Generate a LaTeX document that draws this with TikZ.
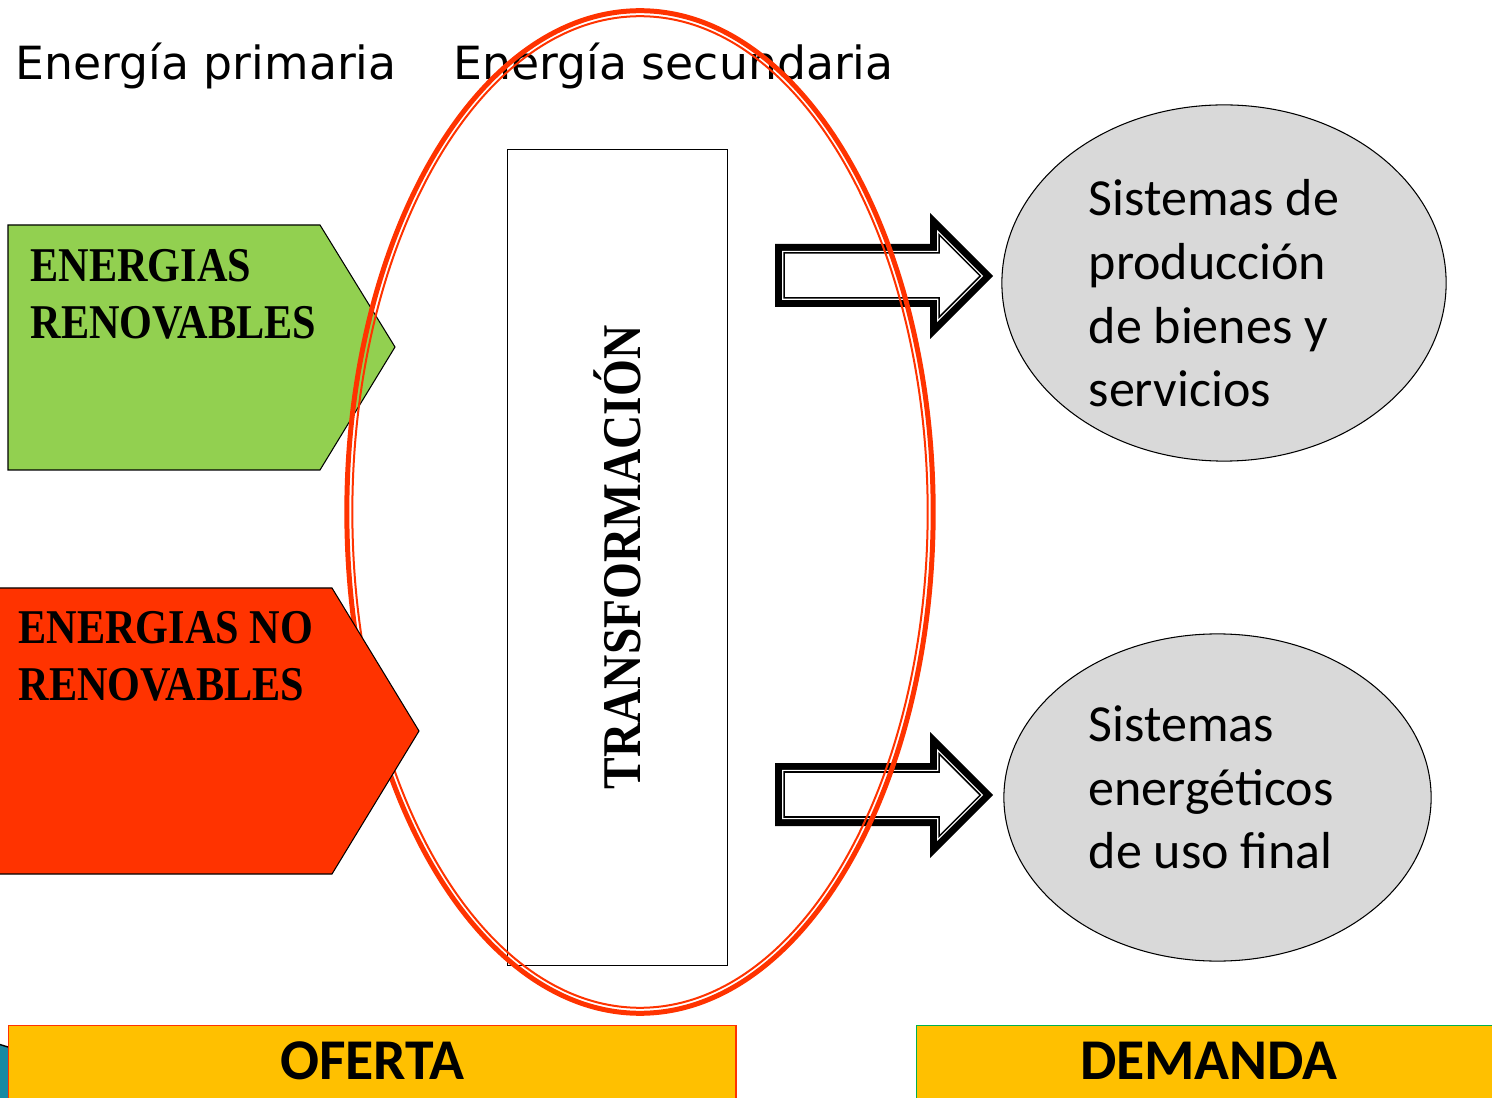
\documentclass[tikz,border=0pt]{standalone}
\usepackage{fontspec}
\usetikzlibrary{shapes.geometric}
\newfontfamily\titlefont{DejaVu Sans}
\newfontfamily\boxfont{Carlito}
\newfontfamily\slabfont[FakeStretch=0.87]{Liberation Serif}
\usepackage{xcolor}
\definecolor{leafGreen}{RGB}{146, 208, 80}
\definecolor{fireRed}{RGB}{255, 51, 0}
\definecolor{sunYellow}{RGB}{255, 192, 0}
\definecolor{cloudGray}{RGB}{217, 217, 217}
\definecolor{edgeGreen}{RGB}{0, 176, 80}
\definecolor{seaTeal}{RGB}{24, 138, 163}

\begin{document}
\begin{tikzpicture}
    [
		x=0.01cm, y=-0.01cm,
		heading/.style={
			anchor=base west, inner sep=0pt, font=\titlefont\fontsize{13}{16}\selectfont
		},
		source/.style={draw=black, line width=0.3pt},
		sourcetext/.style={
			anchor=north west, align=left, inner sep=0pt,
			font=\slabfont\bfseries\fontsize{13.8}{16.2}\selectfont
		},
		sink/.style={
			ellipse, draw=black, line width=0.3pt, fill=cloudGray, inner sep=0pt
		},
		sinktext/.style={
			anchor=north west, align=left, inner sep=0pt,
			font=\boxfont\fontsize{14.8}{18.1}\selectfont
		},
		ring/.style={ellipse, draw=fireRed, inner sep=0pt},
		side/.style={
			rectangle, fill=sunYellow, line width=0.4pt, inner sep=0pt,
			minimum height=0.85cm, text depth=0.15cm, anchor=north west,
			font=\boxfont\bfseries\fontsize{16.4}{20}\selectfont
		}
	]

\useasboundingbox (0,0) rectangle (1492,1098);

% Headings
\node (primary) [heading] at (15,80) {Energía primaria};
\node (secondary) [heading] at (453,80) {Energía secundaria};

% Transformation
\node (trans) [draw, line width=0.3pt, rotate=90, minimum width=8.15cm,
	minimum height=2.19cm, inner sep=0pt,
	font=\slabfont\bfseries\fontsize{15.5}{18}\selectfont]
	at (617.5,557.5) {TRANSFORMACIÓN};

% Renewable source
\draw [source, fill=leafGreen]
	(8,225) -- (320,225) -- (395,347) -- (320,470) -- (8,470) -- cycle;
\node (renew) [sourcetext] at (30,249) {ENERGIAS\\RENOVABLES};

% Arrows
\foreach \dy in {0,519} {
	\begin{scope}[shift={(0,\dy)}]
		\fill (775,244) -- (930,244) -- (930,213) -- (993,276)
			-- (930,339) -- (930,307) -- (775,307) -- cycle;
		\draw [white, line width=1.14pt, fill=white]
			(784,253) -- (939,253) -- (939,234.7) -- (980.3,276)
			-- (939,317.3) -- (939,298) -- (784,298) -- cycle;
		\draw [line width=0.43pt]
			(784,253) -- (939,253) -- (939,234.7) -- (980.3,276)
			-- (939,317.3) -- (939,298) -- (784,298) -- cycle;
	\end{scope}
}

% Red ring
\node (ring) [ring, line width=1.42pt, minimum width=5.86cm,
	minimum height=10.02cm] at (640,512) {};
\node (ringin) [ring, line width=0.57pt, minimum width=5.75cm,
	minimum height=9.91cm] at (640,512) {};

% Non renewable source
\draw [source, fill=fireRed]
	(-5,588) -- (332,588) -- (419,731) -- (332,874) -- (-5,874) -- cycle;
\node (nonrenew) [sourcetext] at (18,611) {ENERGIAS NO\\RENOVABLES};

% Demand systems
\node (prod) [sink, minimum width=4.44cm, minimum height=3.56cm] at (1224,283) {};
\node (prodtext) [sinktext] at (1088,179)
	{Sistemas de\\producción\\de bienes y\\servicios};
\node (final) [sink, minimum width=4.27cm, minimum height=3.27cm] at (1217.5,797.5) {};
\node (finaltext) [sinktext] at (1088,705)
	{Sistemas\\energéticos\\de uso final};

% Bottom bars
\fill [seaTeal] (-5,1043) -- (8,1047) -- (8,1110) -- (-5,1110) -- cycle;
\draw [line width=0.4pt] (-5,1043) -- (8,1047);
\node (offer) [side, draw=fireRed, minimum width=7.27cm] at (8,1025) {OFERTA};
\node (demand) [side, draw=edgeGreen, minimum width=5.84cm] at (916,1025) {DEMANDA};

\end{tikzpicture}
\end{document}
